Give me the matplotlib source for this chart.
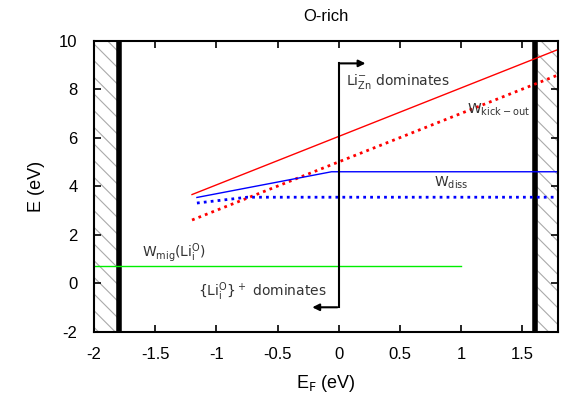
import matplotlib.pyplot as plt

plt.rcParams['font.family'] = ['Liberation Sans', 'DejaVu Sans']
plt.rcParams['mathtext.fontset'] = 'dejavusans'
plt.rcParams['hatch.linewidth'] = 0.8

# energies vs Fermi level (eV)
ef_kick = [-1.2, 1.79]
w_kick = [3.65, 9.63]
ef_kick_dot = [-1.2, 1.79]
w_kick_dot = [2.6, 8.58]
ef_diss = [-1.16, -0.06, 1.79]
w_diss = [3.53, 4.59, 4.59]
ef_diss_dot = [-1.16, -0.75, 1.79]
w_diss_dot = [3.3, 3.54, 3.54]
ef_mig = [-2.0, 1.0]
w_mig = [0.7, 0.7]

vbm = -1.8
cbm = 1.6
x_lim = (-2.0, 1.79)
y_lim = (-2, 10)

fig = plt.figure(figsize=(5.67, 3.98), dpi=100)
ax = fig.add_axes([0.166, 0.167, 0.818, 0.731])

ax.axvspan(x_lim[0], vbm, facecolor='white', edgecolor='#aaaaaa', hatch='\\\\', linewidth=0)
ax.axvspan(cbm, x_lim[1], facecolor='white', edgecolor='#aaaaaa', hatch='\\\\', linewidth=0)
ax.axvline(vbm, color='black', lw=4)
ax.axvline(cbm, color='black', lw=4)

ax.plot(ef_kick, w_kick, color='red', lw=1)
ax.plot(ef_kick_dot, w_kick_dot, color='red', lw=2, ls=(0, (1, 1.5)))
ax.plot(ef_diss, w_diss, color='blue', lw=1)
ax.plot(ef_diss_dot, w_diss_dot, color='blue', lw=2, ls=(0, (1, 1.5)))
ax.plot(ef_mig, w_mig, color='#00ee00', lw=1)

# dominance arrows
ax.plot([0, 0], [-1.0, 9.06], color='black', lw=1.5)
ax.annotate('', xy=(0.24, 9.06), xytext=(-0.01, 9.06),
            arrowprops=dict(arrowstyle='-|>', color='black', lw=1.5, mutation_scale=10))
ax.annotate('', xy=(-0.24, -1.0), xytext=(0.01, -1.0),
            arrowprops=dict(arrowstyle='-|>', color='black', lw=1.5, mutation_scale=10))

tc = '#333333'
ax.text(0.06, 8.3, r'Li$_{\mathrm{Zn}}^{-}$ dominates', color=tc, fontsize=10, va='center', family='DejaVu Sans')
ax.text(1.05, 7.13, r'W$_{\mathrm{kick-out}}$', color=tc, fontsize=10, va='center', family='DejaVu Sans')
ax.text(0.78, 4.12, r'W$_{\mathrm{diss}}$', color=tc, fontsize=10, va='center', family='DejaVu Sans')
ax.text(-1.61, 1.24, r'W$_{\mathrm{mig}}$(Li$_{\mathrm{i}}^{\mathrm{O}}$)', color=tc, fontsize=10, va='center', family='DejaVu Sans')
ax.text(-1.15, -0.37, r'{Li$_{\mathrm{i}}^{\mathrm{O}}$}$^+$ dominates', color=tc, fontsize=10, va='center', family='DejaVu Sans')

ax.set_xlim(*x_lim)
ax.set_ylim(*y_lim)
ax.set_xticks([-2, -1.5, -1, -0.5, 0, 0.5, 1, 1.5])
ax.set_xticklabels(['-2', '-1.5', '-1', '-0.5', '0', '0.5', '1', '1.5'])
ax.set_yticks(range(-2, 11, 2))
ax.set_yticklabels([str(v) for v in range(-2, 11, 2)])
ax.tick_params(direction='in', top=True, right=True, length=5, width=1.2, labelsize=12)
ax.tick_params(axis='x', pad=11)
ax.tick_params(axis='y', pad=12)
for s in ax.spines.values():
    s.set_linewidth(1.5)

ax.set_title('O-rich', fontsize=12, pad=14)
ax.set_xlabel(r'E$_\mathrm{F}$ (eV)', fontsize=13, labelpad=8)
ax.set_ylabel('E (eV)', fontsize=13, labelpad=10)

fig.savefig('out.png', dpi=100)
